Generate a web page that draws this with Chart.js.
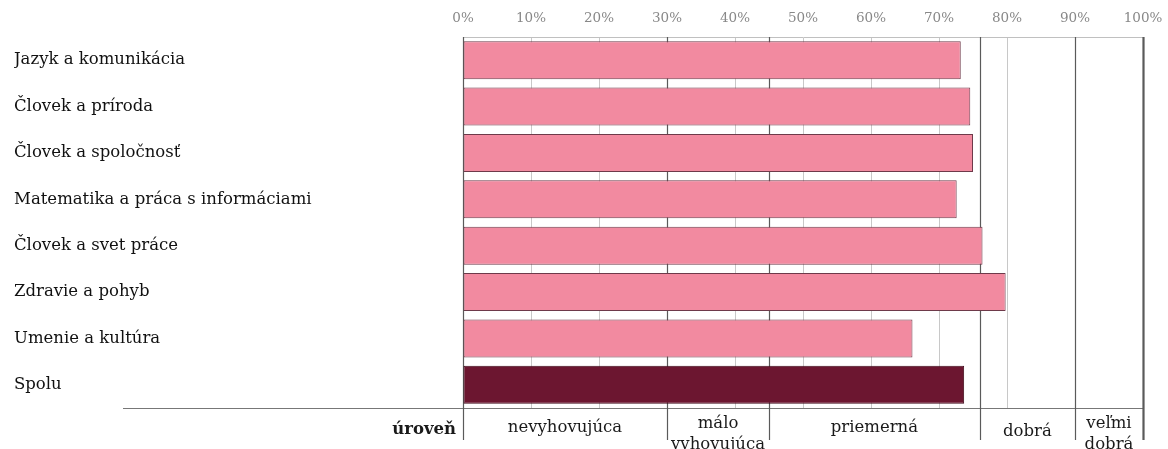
<!DOCTYPE html>
<html>
<head>
<meta charset="utf-8">
<script src="https://cdn.jsdelivr.net/npm/chart.js@4.4.0/dist/chart.umd.min.js"></script>
<style>
html,body{margin:0;padding:0;background:#fff;}
#wrap{width:1168px;height:449px;}
</style>
</head>
<body>
<div id="wrap"><canvas id="c" width="1168" height="449"></canvas></div>
<script>
const categories = ["Jazyk a komunikácia", "Človek a príroda", "Človek a spoločnosť", "Matematika a práca s informáciami", "Človek a svet práce", "Zdravie a pohyb", "Umenie a kultúra", "Spolu"];
const values = [73.2, 74.6, 75.0, 72.6, 76.4, 79.8, 66.1, 73.7];
const tickValues = [0, 10, 20, 30, 40, 50, 60, 70, 80, 90, 100];
const levelBounds = [0, 30, 45, 76, 90, 100];
const levelNames = [["nevyhovujúca"], ["málo", "vyhovujúca"], ["priemerná"], ["dobrá"], ["veľmi", "dobrá"]];
const levelTitle = "úroveň";

const SERIF = "'DejaVu Serif', 'Liberation Serif', serif";
const pink = "#f28aa0", maroon = "#6c1630";

const levelPlugin = {
  id: 'levels',
  beforeDatasetsDraw(chart) {
    const ctx = chart.ctx, x = chart.scales.x, a = chart.chartArea;
    ctx.save();
    levelBounds.forEach(v => {
      const px = Math.round(x.getPixelForValue(v)) + 0.5;
      ctx.beginPath();
      ctx.strokeStyle = '#5a5a5a';
      ctx.lineWidth = v === 100 ? 2.2 : 1.2;
      ctx.moveTo(px, a.top);
      ctx.lineTo(px, a.bottom);
      ctx.stroke();
    });
    ctx.restore();
  },
  afterDraw(chart) {
    const ctx = chart.ctx, x = chart.scales.x, a = chart.chartArea;
    ctx.save();
    ctx.strokeStyle = '#777';
    ctx.lineWidth = 1;
    ctx.beginPath();
    ctx.moveTo(123, a.bottom + 0.5);
    ctx.lineTo(x.getPixelForValue(100), a.bottom + 0.5);
    ctx.stroke();
    levelBounds.forEach(v => {
      const px = Math.round(x.getPixelForValue(v)) + 0.5;
      ctx.beginPath();
      ctx.strokeStyle = '#5a5a5a';
      ctx.lineWidth = v === 100 ? 2.2 : 1.2;
      ctx.moveTo(px, a.bottom);
      ctx.lineTo(px, a.bottom + 32);
      ctx.stroke();
    });
    ctx.fillStyle = '#1a1a1a';
    ctx.textBaseline = 'middle';
    ctx.font = "bold 16.5px " + SERIF;
    ctx.textAlign = 'right';
    ctx.fillText(levelTitle, x.getPixelForValue(0) - 7, a.bottom + 22);
    ctx.font = "16.5px " + SERIF;
    ctx.textAlign = 'center';
    levelNames.forEach((lines, i) => {
      const cx = (x.getPixelForValue(levelBounds[i]) + x.getPixelForValue(levelBounds[i + 1])) / 2;
      if (lines.length === 1) {
        ctx.fillText(lines[0], cx, a.bottom + (i === 3 ? 24 : 20));
      } else {
        ctx.fillText(lines[0], cx, a.bottom + 16);
        ctx.fillText(lines[1], cx, a.bottom + 37);
      }
    });
    ctx.restore();
  }
};

new Chart(document.getElementById('c'), {
  type: 'bar',
  data: {
    labels: categories,
    datasets: [{
      data: values,
      backgroundColor: values.map((v, i) => i === values.length - 1 ? maroon : pink),
      borderColor: values.map((v, i) => i === values.length - 1 ? '#3f0a1a' : '#6e3a4a'),
      borderWidth: 1,
      borderSkipped: false,
      categoryPercentage: 0.82,
      barPercentage: 1.0
    }]
  },
  options: {
    indexAxis: 'y',
    responsive: false,
    animation: false,
    devicePixelRatio: 1,
    layout: { autoPadding: false, padding: { left: 14, right: 25, top: 0, bottom: 41 } },
    plugins: { legend: { display: false }, tooltip: { enabled: false } },
    scales: {
      x: {
        position: 'top',
        min: 0, max: 100,
        afterBuildTicks(scale) { scale.ticks = tickValues.map(v => ({ value: v })); },
        afterFit(scale) { scale.height = 37; scale.paddingRight = 0; scale.paddingLeft = 0; },
        ticks: {
          padding: 10,
          color: '#888',
          font: { family: SERIF, size: 13.5 },
          callback: v => v + '%'
        },
        grid: {
          drawTicks: false,
          color: '#c8c8c8',
          lineWidth: 1
        },
        border: { display: true, color: '#c0c0c0', width: 1 }
      },
      y: {
        afterFit(scale) { scale.width = 449; },
        ticks: {
          crossAlign: 'far',
          padding: 0,
          color: '#111',
          font: { family: SERIF, size: 16.5 }
        },
        grid: { display: false, drawTicks: false },
        border: { display: false }
      }
    }
  },
  plugins: [levelPlugin]
});
</script>
</body>
</html>
